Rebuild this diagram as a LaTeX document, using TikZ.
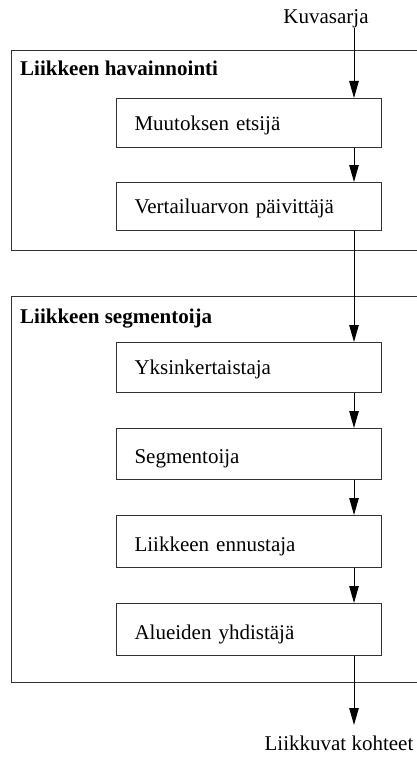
\documentclass[tikz,border=0pt]{standalone}
\usepackage{fontspec}
\setmainfont{Liberation Serif}
\usetikzlibrary{arrows.meta}
\begin{document}
\begin{tikzpicture}[x=1pt,y=-1pt,
  every node/.style={font=\fontsize{21}{25}\selectfont},
  groupbox/.style={draw=black!80,line width=1.1pt,anchor=north west,minimum width=440pt,inner sep=0pt},
  stepbox/.style={draw=black!80,line width=1.1pt,anchor=north west,minimum width=265pt,
    text width=265pt,inner xsep=0pt,inner ysep=0pt,align=left,text depth=0pt,text height=14pt},
  grouplabel/.style={anchor=base west,inner sep=0pt,font=\fontsize{21}{25}\selectfont\bfseries},
  arr/.style={line width=1pt,-{Triangle[length=17pt,width=9.5pt]}}]
\useasboundingbox (0,0) rectangle (417,757);
\clip (0,0) rectangle (417,757);
% group boxes
\node[groupbox,minimum height=200pt] (g1) at (11,50) {};
\node[grouplabel] (g1l) at (20,76) {Liikkeen havainnointi};
\node[groupbox,minimum height=386pt] (g2) at (11,296) {};
\node[grouplabel] (g2l) at (20,323) {Liikkeen segmentoija};
% steps
\node[stepbox,minimum height=49pt] (b1) at (116,98) {\hspace*{18pt}Muutoksen etsijä};
\node[stepbox,minimum height=48pt] (b2) at (116,182) {\hspace*{18pt}Vertailuarvon päivittäjä};
\node[stepbox,minimum height=50pt] (b3) at (116,342) {\hspace*{18pt}Yksinkertaistaja};
\node[stepbox,minimum height=51pt,text height=18pt] (b4) at (116,428) {\hspace*{18pt}Segmentoija};
\node[stepbox,minimum height=52pt,text height=19pt] (b5) at (116,515) {\hspace*{18pt}Liikkeen ennustaja};
\node[stepbox,minimum height=52pt,text height=19pt] (b6) at (116,603) {\hspace*{18pt}Alueiden yhdistäjä};
% input / output
\node[anchor=base,inner sep=0pt] (in) at (326,24) {Kuvasarja};
\node[anchor=base,inner sep=0pt] (out) at (339,750) {Liikkuvat kohteet};
\coordinate (ax) at (354,0);
\coordinate (start) at (354,28);
\coordinate (stop) at (354,725);
% arrows
\draw[arr] (start) -- (b1.north -| ax);
\draw[arr] (b1.south -| ax) -- (b2.north -| ax);
\draw[arr] (b2.south -| ax) -- (b3.north -| ax);
\draw[arr] (b3.south -| ax) -- (b4.north -| ax);
\draw[arr] (b4.south -| ax) -- (b5.north -| ax);
\draw[arr] (b5.south -| ax) -- (b6.north -| ax);
\draw[arr] (b6.south -| ax) -- (stop);
\end{tikzpicture}
\end{document}
